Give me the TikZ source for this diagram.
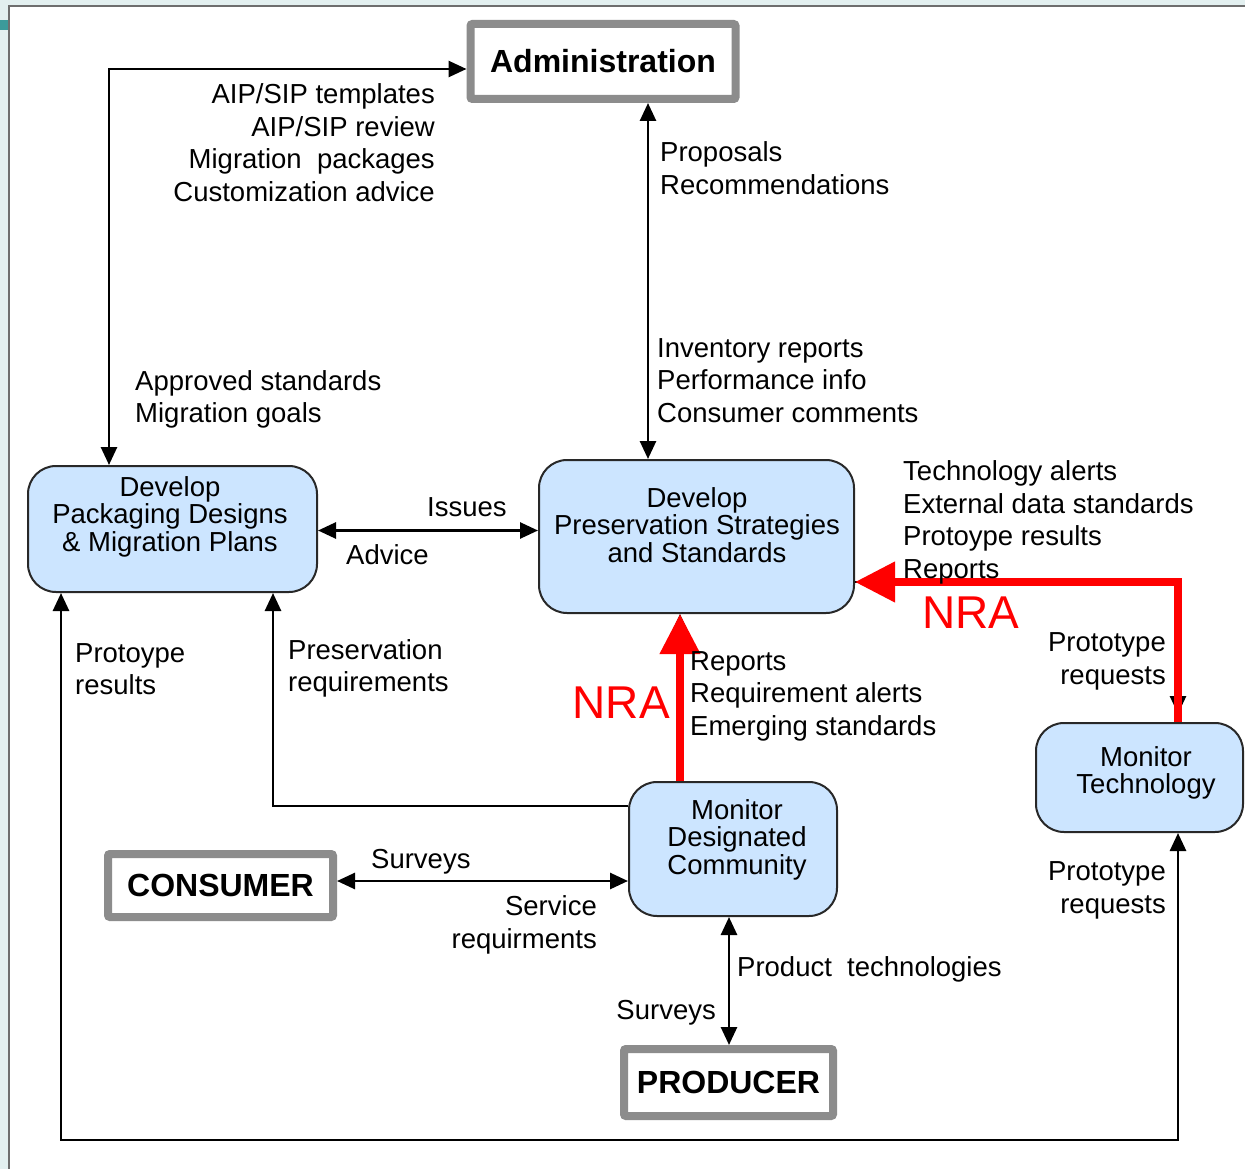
\documentclass[tikz,border=0pt]{standalone}
\usepackage{fontspec}
\setmainfont{Liberation Sans}
\usetikzlibrary{arrows.meta,calc}
\definecolor{procfill}{RGB}{204,229,255}
\definecolor{procedge}{RGB}{40,40,40}
\definecolor{extgray}{RGB}{140,140,140}
\definecolor{nrared}{RGB}{255,0,0}
\definecolor{pageout}{RGB}{227,240,240}
\definecolor{pageedge}{RGB}{110,110,110}
\definecolor{tabmark}{RGB}{60,154,154}
\begin{document}
\begin{tikzpicture}[x=1pt,y=-1pt,
  lbl/.style={inner sep=0pt, text=black, font=\fontsize{27.5pt}{32.5pt}\selectfont},
  lblL/.style={lbl, anchor=west, align=left},
  lblR/.style={lbl, anchor=east, align=right},
  proc/.style={draw=procedge, line width=2pt, fill=procfill, rounded corners=28pt, inner sep=0pt},
  procT/.style={inner sep=0pt, align=center, font=\fontsize{27.5pt}{27.5pt}\selectfont},
  ext/.style={draw=extgray, line width=8pt, fill=white, rounded corners=2pt, inner sep=0pt,
    font=\bfseries\fontsize{32pt}{36pt}\selectfont},
  conn/.style={line width=2.7pt, black},
  dbl/.style={conn, {Triangle[length=18pt,width=16pt]}-{Triangle[length=18pt,width=16pt]}},
  one/.style={conn, -{Triangle[length=18pt,width=16pt]}},
  nra/.style={line width=7.5pt, nrared, -{Triangle[length=40pt,width=39pt]}},
  nratext/.style={inner sep=0pt, text=nrared, font=\fontsize{46pt}{50pt}\selectfont}
]
\useasboundingbox (0,0) rectangle (1245,1169);

% page background
\fill[pageout] (0,0) rectangle (1245,1169);
\fill[white] (9,6) rectangle (1245,1169);
\draw[pageedge, line width=2pt] (9,1169) -- (9,6) -- (1245,6);
\fill[tabmark] (0,20) rectangle (8,30);

% external entities and processes
\node[ext, minimum width=265pt, minimum height=75pt] (admin) at (603,61.5) {Administration};
\node[proc, minimum width=289pt, minimum height=126pt] (pack) at (172.5,529) {};
\node[procT] (packT) at (170,516.5) {Develop\\Packaging Designs\\\& Migration Plans};
\node[proc, minimum width=315pt, minimum height=153pt] (pres) at (696.5,536.5) {};
\node[procT] (presT) at (697,525) {Develop\\Preservation Strategies\\and Standards};
\node[proc, minimum width=208pt, minimum height=134pt] (mondes) at (733,849) {};
\node[procT] (mondesT) at (737,839.5) {Monitor\\Designated\\Community};
\node[proc, minimum width=207pt, minimum height=109pt] (montech) at (1139.5,777.5) {};
\node[procT] (montechT) at (1146,773) {Monitor\\Technology};
\node[ext, minimum width=225pt, minimum height=63pt] (cons) at (220.5,885.5) {CONSUMER};
\node[ext, minimum width=209pt, minimum height=67pt] (prod) at (728.5,1082.5) {PRODUCER};

% black flows
\draw[dbl] ([yshift=-7.5pt]admin.west) -| ([xshift=-63.5pt]pack.north);
\draw[dbl] ([xshift=45pt]admin.south) -- ([xshift=-48.5pt]pres.north);
\draw[dbl] ([yshift=-1.5pt]pack.east) -- ([yshift=6pt]pres.west);
\draw[one] ([yshift=43pt]mondes.west) -| ([xshift=100.5pt]pack.south);
\draw[dbl] ([yshift=4.5pt]cons.east) -- ([yshift=-32pt]mondes.west);
\draw[dbl] ([xshift=-4pt]mondes.south) -- ([xshift=0.5pt]prod.north);
\draw[dbl] ([xshift=-111.5pt]pack.south) -- ++(0,547) -| ([xshift=38.5pt]montech.south);
\draw[one] ([xshift=-53pt]mondes.north) -- ([xshift=-16.5pt]pres.south);
\draw[one, shorten >=8pt] ([yshift=-45.5pt]pres.east) -| ([xshift=38.5pt]montech.north);

% NRA flows
\draw[nra] ([xshift=-53pt]mondes.north) -- ([xshift=-16.5pt]pres.south);
\draw[nra] ([xshift=38.5pt]montech.north) |- ([yshift=-45.5pt]pres.east);

% flow labels
\node[lblR] (l1) at (435,142.5) {AIP/SIP templates\\AIP/SIP review\\Migration\ \ packages\\Customization advice};
\node[lblL] (l2) at (660,168) {Proposals\\Recommendations};
\node[lblL] (l3) at (657,380.5) {Inventory reports\\Performance info\\Consumer comments};
\node[lblL] (l4) at (135,399.5) {Approved standards\\Migration goals};
\node[lblL] (l5) at (903,522.5) {Technology alerts\\External data standards\\Protoype results\\Reports};
\node[lblL] (l6) at (427,507) {Issues};
\node[lblL] (l7) at (346,555) {Advice};
\node[lblL] (l8) at (75,669) {Protoype\\results};
\node[lblL] (l9) at (288,668.5) {Preservation\\requirements};
\node[lblL] (l10) at (690,696) {Reports\\Requirement alerts\\Emerging standards};
\node[lblR] (l11) at (1166,661.5) {Prototype\\requests};
\node[lblR] (l12) at (1166,890.5) {Prototype\\requests};
\node[lblL] (l13) at (371,862) {Surveys};
\node[lblR] (l14) at (597,925) {Service\\requirments};
\node[lblL] (l15) at (737,969) {Product\ \ technologies};
\node[lblR] (l16) at (716,1013) {Surveys};
\node[nratext, anchor=east] (nra1) at (670,703) {NRA};
\node[nratext, anchor=west] (nra2) at (922,613) {NRA};
\end{tikzpicture}
\end{document}
